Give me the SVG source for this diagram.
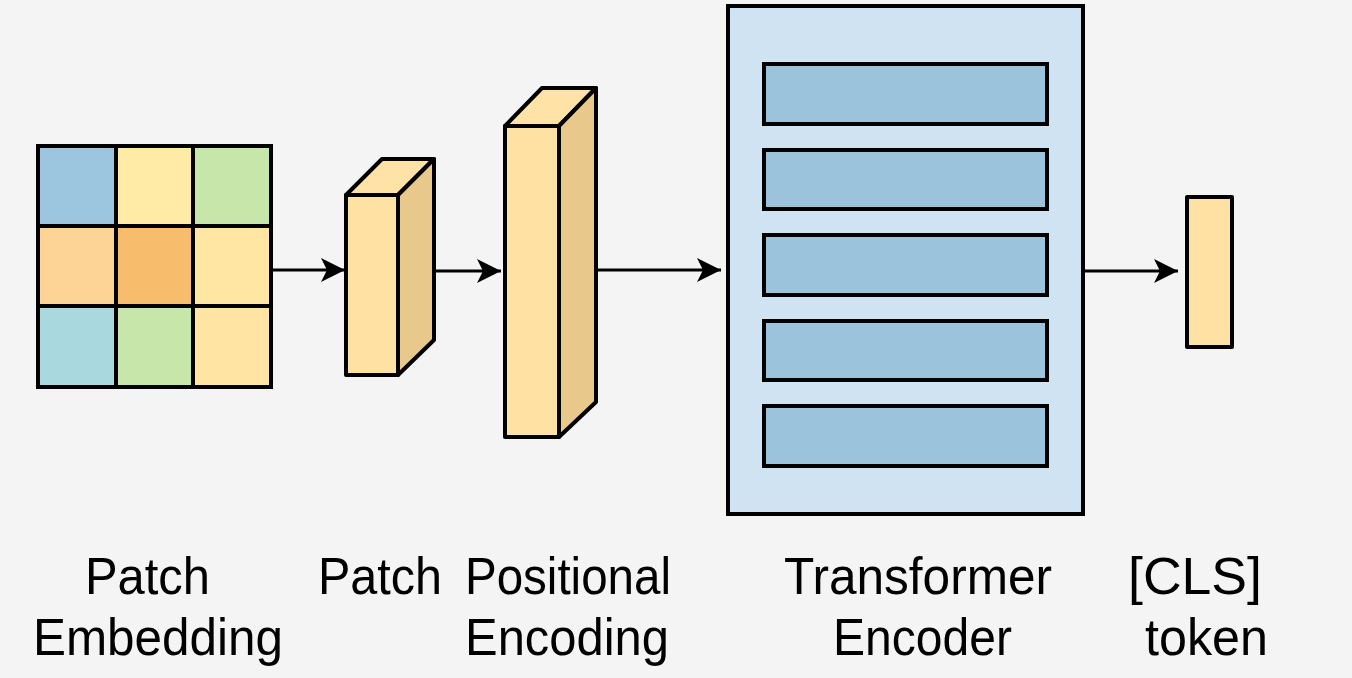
<svg xmlns="http://www.w3.org/2000/svg" width="1352" height="678" viewBox="0 0 1352 678">
<defs>
<style>
.bg{fill:#f4f4f4}
.cell{stroke:#000;stroke-width:4}
.face{stroke:#000;stroke-width:4;stroke-linejoin:round}
.front{fill:#ffe2a3}
.top{fill:#ffe3a6}
.side{fill:#e9c98b}
.enc{fill:#cfe3f2;stroke:#000;stroke-width:4}
.bar{fill:#9bc4dc;stroke:#000;stroke-width:4}
.conn{stroke:#000;stroke-width:3.2;fill:none}
.lbl{font-family:"Liberation Sans",Arial,sans-serif;font-size:52px;fill:#000}
</style>
<marker id="ah2" viewBox="0 0 24 24" refX="24" refY="12" markerWidth="24" markerHeight="24" markerUnits="userSpaceOnUse" orient="auto">
<path d="M0,0 L24,12 L0,24 L6,12 Z" fill="#000"/>
</marker>
</defs>
<rect class="bg" x="0" y="0" width="1352" height="678"/>

<g id="connectors">
<line class="conn" x1="271" y1="270" x2="345" y2="270" marker-end="url(#ah2)"/>
<line class="conn" x1="434" y1="271" x2="501" y2="271" marker-end="url(#ah2)"/>
<line class="conn" x1="596" y1="270" x2="721" y2="270" marker-end="url(#ah2)"/>
<line class="conn" x1="1083" y1="271" x2="1178" y2="271" marker-end="url(#ah2)"/>
</g>

<g id="patch-grid">
<rect class="cell" x="38" y="146" width="78" height="80" fill="#9cc6e0"/>
<rect class="cell" x="116" y="146" width="77" height="80" fill="#ffeba6"/>
<rect class="cell" x="193" y="146" width="78" height="80" fill="#c6e7a9"/>
<rect class="cell" x="38" y="226" width="78" height="80" fill="#fdd396"/>
<rect class="cell" x="116" y="226" width="77" height="80" fill="#f7bc6c"/>
<rect class="cell" x="193" y="226" width="78" height="80" fill="#ffe7a3"/>
<rect class="cell" x="38" y="306" width="78" height="81" fill="#a9d9de"/>
<rect class="cell" x="116" y="306" width="77" height="81" fill="#c6e7a9"/>
<rect class="cell" x="193" y="306" width="78" height="81" fill="#ffe4a4"/>
</g>

<g id="patch-block">
<polygon class="face top" points="346,195 382,159 434,159 398,195"/>
<polygon class="face side" points="398,195 434,159 434,340 398,375"/>
<rect class="face front" x="346" y="195" width="52" height="180"/>
</g>

<g id="positional-block">
<polygon class="face top" points="505,126 542,88 596,88 559,126"/>
<polygon class="face side" points="559,126 596,88 596,402 559,437"/>
<rect class="face front" x="505" y="126" width="54" height="311"/>
</g>

<g id="transformer-encoder">
<rect class="enc" x="728" y="6" width="355" height="508"/>
<rect class="bar" x="764" y="64" width="283" height="60"/>
<rect class="bar" x="764" y="150" width="283" height="59"/>
<rect class="bar" x="764" y="235" width="283" height="60"/>
<rect class="bar" x="764" y="321" width="283" height="59"/>
<rect class="bar" x="764" y="406" width="283" height="60"/>
</g>

<g id="cls-token">
<rect class="face front" x="1187" y="197" width="45" height="150"/>
</g>

<g id="labels">
<text class="lbl" x="85" y="594" textLength="125" lengthAdjust="spacingAndGlyphs">Patch</text>
<text class="lbl" x="33" y="655" textLength="250" lengthAdjust="spacingAndGlyphs">Embedding</text>
<text class="lbl" x="318" y="594" textLength="124" lengthAdjust="spacingAndGlyphs">Patch</text>
<text class="lbl" x="465" y="594" textLength="206" lengthAdjust="spacingAndGlyphs">Positional</text>
<text class="lbl" x="465" y="655" textLength="204" lengthAdjust="spacingAndGlyphs">Encoding</text>
<text class="lbl" x="784" y="594" textLength="268" lengthAdjust="spacingAndGlyphs">Transformer</text>
<text class="lbl" x="833" y="655" textLength="179" lengthAdjust="spacingAndGlyphs">Encoder</text>
<text class="lbl" x="1128" y="594" textLength="134" lengthAdjust="spacingAndGlyphs">[CLS]</text>
<text class="lbl" x="1145" y="655" textLength="123" lengthAdjust="spacingAndGlyphs">token</text>
</g>
</svg>
